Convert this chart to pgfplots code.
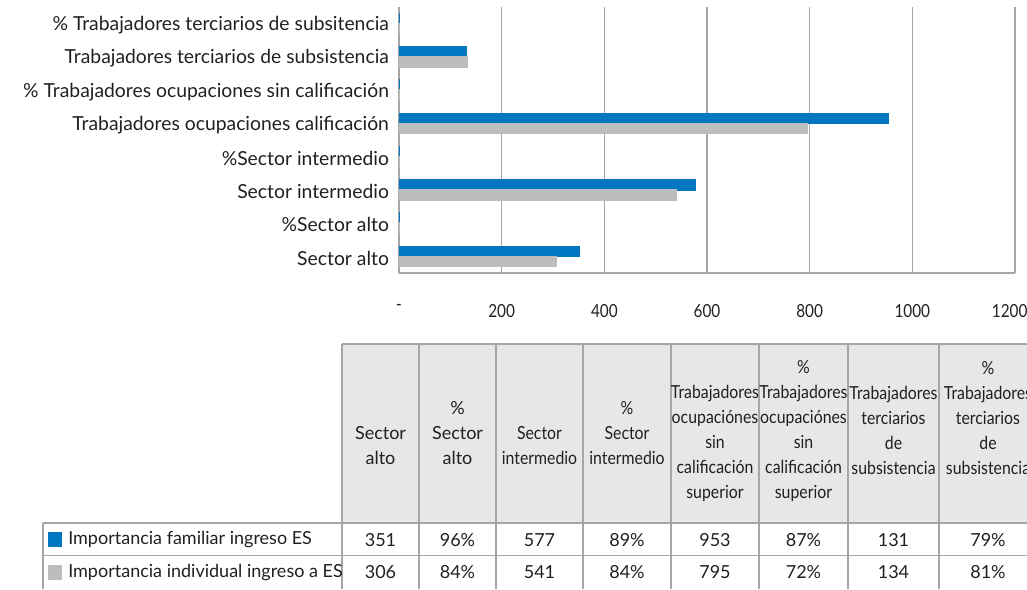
\documentclass[border=0pt]{standalone}
\usepackage{fontspec}
\setmainfont{Lato}
\newfontfamily\condfont[FakeStretch=0.88]{Lato}
\newfontfamily\tickfont[FakeStretch=0.85]{Lato}
\usepackage{pgfplots}
\pgfplotsset{compat=1.18}
\definecolor{barblue}{HTML}{0077C0}
\definecolor{bargray}{HTML}{BCBDBF}
\definecolor{gridgray}{HTML}{A6A6A6}
\definecolor{headgray}{HTML}{E6E7E7}
\definecolor{txt}{HTML}{231F20}
\begin{document}
\begin{tikzpicture}[x=0.75pt,y=-0.75pt]
\useasboundingbox (0,0) rectangle (1027,589);
\begin{axis}[
  at={(299.25pt,-204.75pt)}, anchor=south west,
  scale only axis, width=462pt, height=199.5pt,
  xbar, xmin=0, xmax=1200, ymin=-0.5, ymax=7.5,
  bar width=0.3,
  xtick={0,200,400,600,800,1000},
  xticklabels={-,200,400,600,800,1000},
  extra x ticks={1200}, extra x tick labels={1200},
  extra x tick style={grid=major, xticklabel style={xshift=-4pt}},
  ytick={0,1,2,3,4,5,6,7},
  yticklabels={Sector alto,\%Sector alto,Sector intermedio,\%Sector intermedio,Trabajadores ocupaciones calificación,\% Trabajadores ocupaciones sin calificación,Trabajadores terciarios de subsistencia,\% Trabajadores terciarios de subsitencia},
  xmajorgrids, grid style={gridgray, line width=0.9pt},
  axis x line*=bottom, axis y line*=left,
  axis line style={-, gridgray, line width=0.9pt},
  major tick length=0pt,
  yticklabel style={font=\fontsize{14.5}{17}\selectfont, text=txt, xshift=-4pt, yshift=-1.2pt},
  xticklabel style={font=\tickfont\fontsize{13.5}{16}\selectfont, text=txt, yshift=-20pt},
]
\addplot[fill=barblue, draw=barblue, line width=1pt, bar shift=0.15]
  coordinates {(351,0) (0.96,1) (577,2) (0.89,3) (953,4) (0.87,5) (131,6) (0.79,7)};
\addplot[fill=bargray, draw=bargray, line width=1pt, bar shift=-0.15]
  coordinates {(306,0) (0.84,1) (541,2) (0.84,3) (795,4) (0.72,5) (134,6) (0.81,7)};
\end{axis}
% table
\fill[headgray] (342,344) rectangle (1040,523);
\draw[gridgray, line width=1.3pt] (342,344) -- (1040,344);
\draw[gridgray, line width=0.9pt] (43,523) -- (1040,523) (43,555.5) -- (1040,555.5);
\foreach \xx in {342,419,496,583,671,759,848,939} {\draw[gridgray, line width=0.9pt] (\xx,344) -- (\xx,589);}
\draw[gridgray, line width=0.9pt] (43,523) -- (43,589);
\begin{scope}[every node/.style={text=txt, align=center, inner sep=0pt}]
\def\hf{\fontsize{13.5}{18.75}\selectfont}
\def\hc{\condfont\fontsize{13.5}{18.75}\selectfont}
\node[font=\hf] at (380.5,445.5) {Sector\\alto};
\node[font=\hf] at (457.5,433) {\%\\Sector\\alto};
\node[font=\hc] at (539.5,445.5) {Sector\\intermedio};
\node[font=\hc] at (627,433) {\%\\Sector\\intermedio};
\node[font=\hc] at (715,443.5) {Trabajadores\\ocupaciónes\\sin\\calificación\\superior};
\node[font=\hc] at (803.5,431.5) {\%\\Trabajadores\\ocupaciónes\\sin\\calificación\\superior};
\node[font=\hc] at (893.5,430.5) {Trabajadores\\terciarios\\de\\subsistencia};
\node[font=\hc] at (988,418) {\%\\Trabajadores\\terciarios\\de\\subsistencia};
\def\df{\fontsize{13.5}{16}\selectfont}
\foreach \xc/\va/\vb in {380.5/351/306, 457.5/96\%/84\%, 539.5/577/541, 627/89\%/84\%, 715/953/795, 803.5/87\%/72\%, 893.5/131/134, 988/79\%/81\%} {
  \node[font=\df] at (\xc,540) {\va};
  \node[font=\df] at (\xc,572.5) {\vb};
}
\fill[barblue] (48,532) rectangle (62,547);
\fill[bargray] (48,564.5) rectangle (62,579.5);
\node[font=\df, anchor=west] at (68,540) {Importancia familiar ingreso ES};
\node[font=\df, anchor=west] at (68,572.5) {Importancia individual ingreso a ES};
\end{scope}
\end{tikzpicture}
\end{document}
